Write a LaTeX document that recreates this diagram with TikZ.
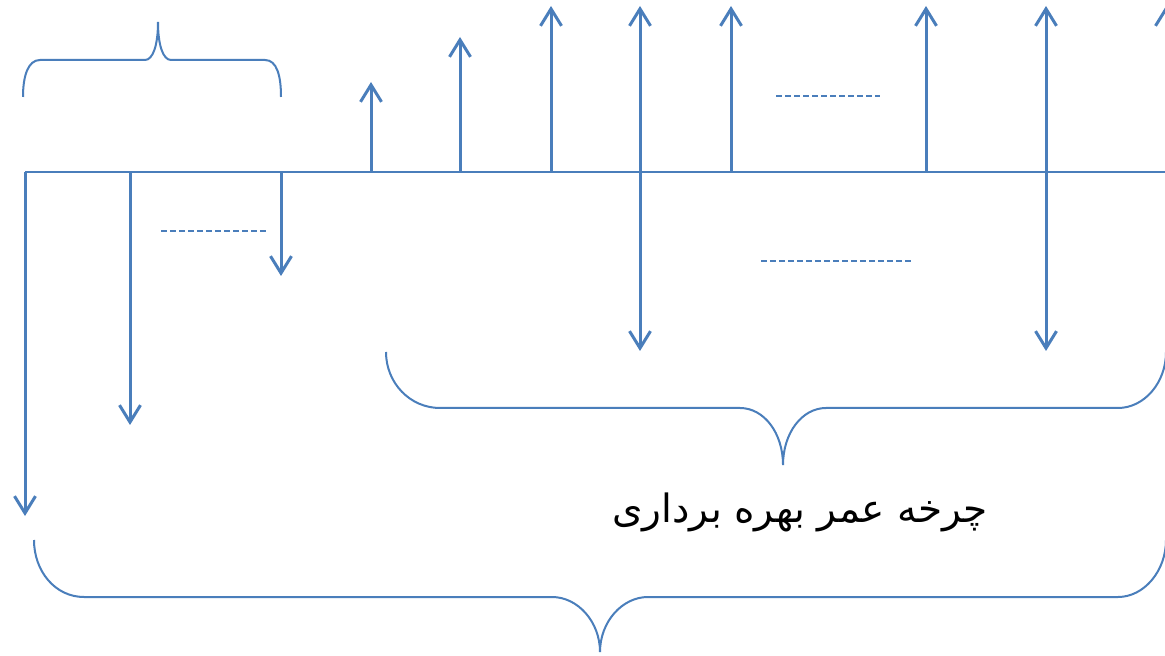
\documentclass[tikz,border=0pt]{standalone}
\usepackage{fontspec}
\usetikzlibrary{arrows.meta}
\TeXXeTstate=1
\newfontfamily\arabicfont[Script=Arabic]{DejaVu Sans}
\definecolor{lineblue}{RGB}{74,126,187}
\tikzset{
  baseline line/.style={draw=lineblue, line width=1.1pt},
  uparrow/.style={draw=lineblue, line width=1.5pt, -{Straight Barb[length=8.5pt,width=10.5pt,line width=1.5pt]}},
  biarrow/.style={draw=lineblue, line width=1.5pt, {Straight Barb[length=8.5pt,width=10.5pt,line width=1.5pt]}-{Straight Barb[length=8.5pt,width=10.5pt,line width=1.5pt]}},
  bracepath/.style={draw=lineblue, line width=1pt},
  dashline/.style={draw=lineblue, line width=0.75pt, dash pattern=on 3pt off 1.5pt},
  label/.style={font=\arabicfont\fontsize{19.5}{23}\selectfont, text=black, inner sep=0pt}
}
\begin{document}
\begin{tikzpicture}[x=0.5pt,y=-0.5pt]
\useasboundingbox (0,0) rectangle (1165,656);
\clip (0,0) rectangle (1165,656);
\fill[white] (0,0) rectangle (1165,656);

% baseline
\coordinate (L) at (25,172);
\coordinate (R) at (1175,172);
\coordinate (dL) at (25,516);
\draw[baseline line] (R) -- (L);
\draw[uparrow] (L) -- (dL);

% down arrows
\coordinate (b130) at (130,172); \coordinate (d130) at (130,425);
\coordinate (b281) at (281,172); \coordinate (d281) at (281,276);
\draw[uparrow] (b130) -- (d130);
\draw[uparrow] (b281) -- (d281);

% up arrows
\coordinate (b371) at (371,172); \coordinate (t371) at (371,82);
\coordinate (b460) at (460,172); \coordinate (t460) at (460,37);
\coordinate (b551) at (551,172); \coordinate (t551) at (551,6);
\coordinate (b731) at (731,172); \coordinate (t731) at (731,6);
\coordinate (b926) at (926,172); \coordinate (t926) at (926,6);
\coordinate (b1166) at (1166,172); \coordinate (t1166) at (1166,6);
\draw[uparrow] (b371) -- (t371);
\draw[uparrow] (b460) -- (t460);
\draw[uparrow] (b551) -- (t551);
\draw[uparrow] (b731) -- (t731);
\draw[uparrow] (b926) -- (t926);
\draw[uparrow] (b1166) -- (t1166);

% two-headed arrows
\coordinate (t640) at (640,6); \coordinate (d640) at (640,351);
\coordinate (t1046) at (1046,6); \coordinate (d1046) at (1046,351);
\draw[biarrow] (t640) -- (d640);
\draw[biarrow] (t1046) -- (d1046);

% dashed lines
\coordinate (da1) at (161,231); \coordinate (da2) at (266,231);
\coordinate (db1) at (776,96); \coordinate (db2) at (880,96);
\coordinate (dc1) at (761,261); \coordinate (dc2) at (911,261);
\draw[dashline] (da1) -- (da2);
\draw[dashline] (db1) -- (db2);
\draw[dashline] (dc1) -- (dc2);

% top brace
\draw[bracepath] (23,97) .. controls (23,76) and (28,60) .. (40,60) -- (145,60)
  .. controls (153,60) and (158,45) .. (158,22)
  .. controls (158,45) and (163,60) .. (171,60) -- (265,60)
  .. controls (277,60) and (281,76) .. (281,97);

% middle brace
\draw[bracepath] (386,352) .. controls (386,383) and (410,408) .. (440,408) -- (740,408)
  .. controls (764,408) and (783,433) .. (783,465)
  .. controls (783,433) and (802,408) .. (826,408) -- (1118,408)
  .. controls (1144,408) and (1166,383) .. (1166,352);

% bottom brace
\draw[bracepath] (34,540) .. controls (34,571) and (55,597) .. (84,597) -- (552,597)
  .. controls (578,597) and (600,622) .. (600,652)
  .. controls (600,622) and (622,597) .. (648,597) -- (1118,597)
  .. controls (1144,597) and (1166,571) .. (1166,540);

% label
\node[label] (title) at (800,512) {\beginR چرخه عمر بهره برداری\endR};
\end{tikzpicture}
\end{document}
